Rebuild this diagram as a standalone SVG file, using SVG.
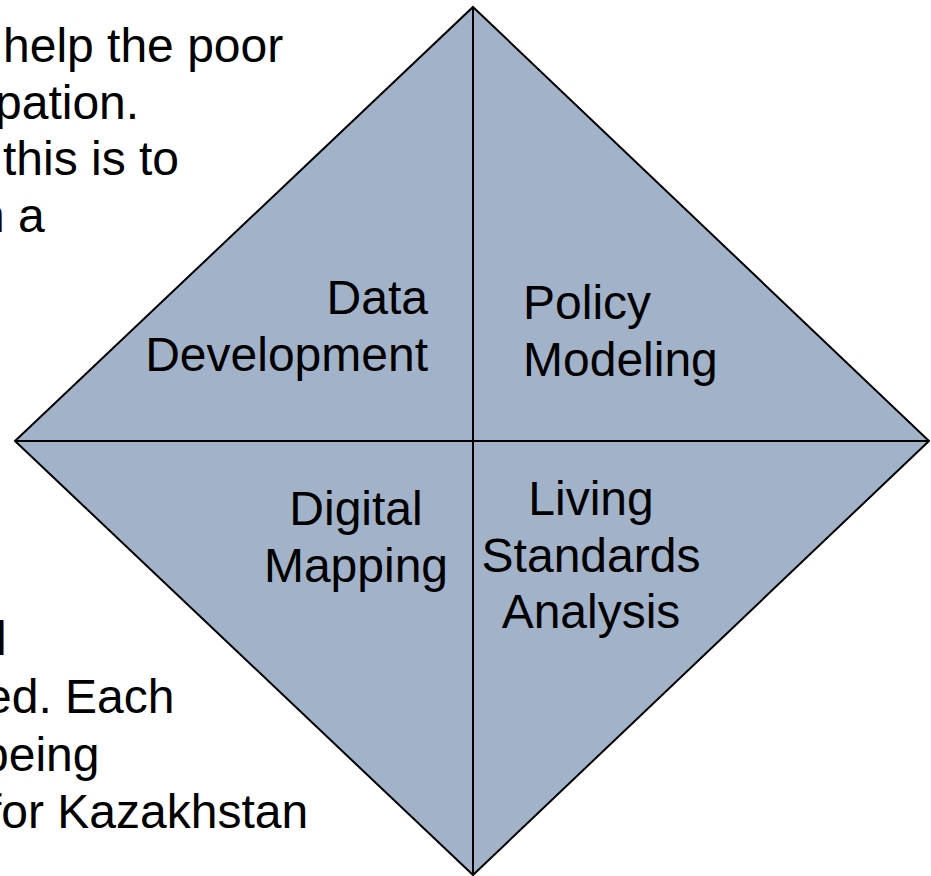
<svg xmlns="http://www.w3.org/2000/svg" width="931" height="876" viewBox="0 0 931 876">
<style>
text{font-family:"Liberation Sans",Arial,sans-serif;font-size:48px;fill:#000}
.q{fill:#A2B2C8;stroke:none}
.ln{stroke:#000;stroke-width:2;fill:none}
</style>
<rect width="931" height="876" fill="#fff"/>
<g id="background-text">
<text x="3" y="62">help the poor</text>
<text x="-5" y="119">pation.</text>
<text x="3" y="175">this is to</text>
<text x="-22" y="232">n a</text>
<text x="-4" y="655">l</text>
<text x="-15" y="713">ed. Each</text>
<text x="-18" y="771">being</text>
<text x="-12" y="828">for Kazakhstan</text>
</g>
<g id="data-development">
<polygon class="q" points="473,7 15,441 473,441"/>
<text x="428" y="314" text-anchor="end">Data</text>
<text x="428" y="371" text-anchor="end">Development</text>
</g>
<g id="policy-modeling">
<polygon class="q" points="473,7 929,441 473,441"/>
<text x="523" y="319">Policy</text>
<text x="523" y="376">Modeling</text>
</g>
<g id="digital-mapping">
<polygon class="q" points="15,441 473,441 473,875"/>
<text x="356" y="525" text-anchor="middle">Digital</text>
<text x="356" y="582" text-anchor="middle">Mapping</text>
</g>
<g id="living-standards-analysis">
<polygon class="q" points="929,441 473,441 473,875"/>
<text x="591" y="515" text-anchor="middle">Living</text>
<text x="591" y="572" text-anchor="middle">Standards</text>
<text x="591" y="628" text-anchor="middle">Analysis</text>
</g>
<g id="connectors">
<polygon class="ln" points="473,7 929,441 473,875 15,441" stroke-width="1.6"/>
<line class="ln" x1="473" y1="7" x2="473" y2="875"/>
<line class="ln" x1="15" y1="441" x2="929" y2="441"/>
</g>
</svg>
